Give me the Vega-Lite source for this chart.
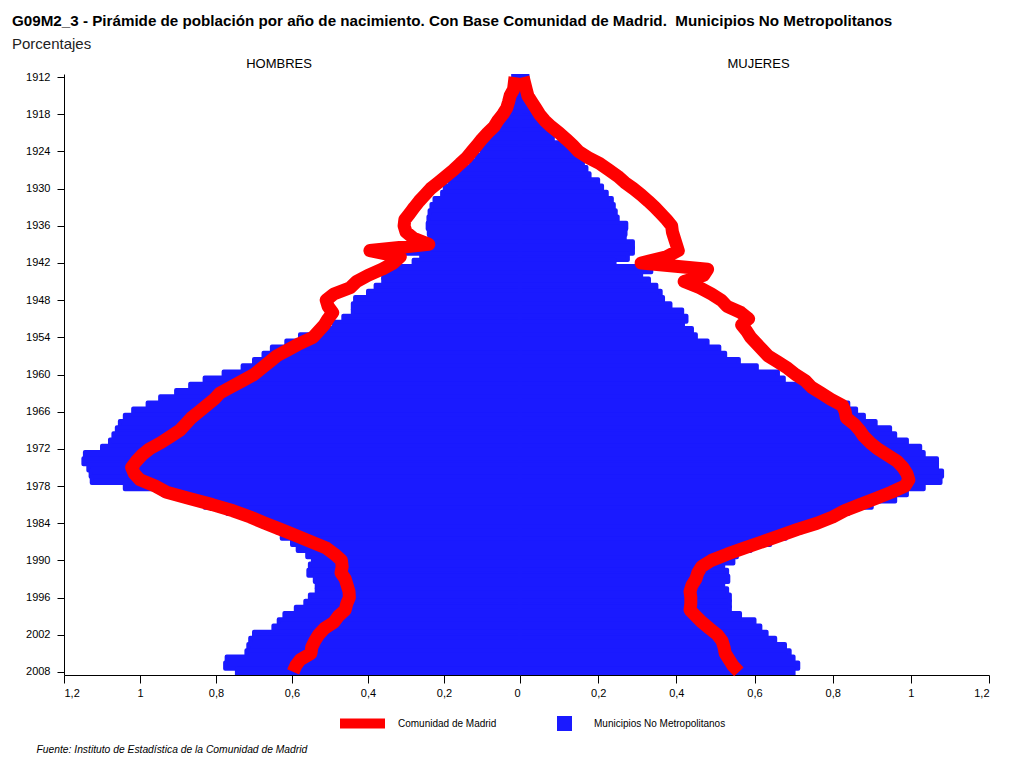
{
"$schema": "https://vega.github.io/schema/vega-lite/v6.json",
"background": "white",
"padding": {"left": 12, "top": 14, "right": 18, "bottom": 4},
"bounds": "flush",
"title": {"text": "G09M2_3 - Pirámide de población por año de nacimiento. Con Base Comunidad de Madrid.\u00a0 Municipios No Metropolitanos", "subtitle": "Porcentajes", "anchor": "start", "frame": "bounds", "font": "Liberation Sans", "fontSize": 15.2, "fontWeight": "bold", "color": "black", "subtitleFont": "Liberation Sans", "subtitleFontSize": 15, "subtitleColor": "#222", "subtitlePadding": 7, "offset": 6},
"data": {"values": [
{"y":1912,"mh":0.018,"ch":0.013,"mm":0.019,"mc":0.008},
{"y":1913,"mh":0.02,"ch":0.015,"mm":0.02,"mc":0.012},
{"y":1914,"mh":0.022,"ch":0.017,"mm":0.022,"mc":0.016},
{"y":1915,"mh":0.025,"ch":0.026,"mm":0.025,"mc":0.02},
{"y":1916,"mh":0.028,"ch":0.03,"mm":0.03,"mc":0.03},
{"y":1917,"mh":0.032,"ch":0.035,"mm":0.035,"mc":0.04},
{"y":1918,"mh":0.036,"ch":0.045,"mm":0.045,"mc":0.05},
{"y":1919,"mh":0.04,"ch":0.058,"mm":0.055,"mc":0.063},
{"y":1920,"mh":0.045,"ch":0.068,"mm":0.065,"mc":0.08},
{"y":1921,"mh":0.06,"ch":0.085,"mm":0.075,"mc":0.1},
{"y":1922,"mh":0.079,"ch":0.1,"mm":0.084,"mc":0.118},
{"y":1923,"mh":0.09,"ch":0.113,"mm":0.11,"mc":0.135},
{"y":1924,"mh":0.1,"ch":0.127,"mm":0.135,"mc":0.15},
{"y":1925,"mh":0.115,"ch":0.14,"mm":0.148,"mc":0.175},
{"y":1926,"mh":0.13,"ch":0.158,"mm":0.161,"mc":0.205},
{"y":1927,"mh":0.15,"ch":0.175,"mm":0.17,"mc":0.228},
{"y":1928,"mh":0.17,"ch":0.195,"mm":0.178,"mc":0.25},
{"y":1929,"mh":0.185,"ch":0.215,"mm":0.2,"mc":0.268},
{"y":1930,"mh":0.198,"ch":0.235,"mm":0.21,"mc":0.29},
{"y":1931,"mh":0.205,"ch":0.25,"mm":0.222,"mc":0.31},
{"y":1932,"mh":0.225,"ch":0.265,"mm":0.235,"mc":0.328},
{"y":1933,"mh":0.233,"ch":0.278,"mm":0.24,"mc":0.345},
{"y":1934,"mh":0.238,"ch":0.29,"mm":0.245,"mc":0.36},
{"y":1935,"mh":0.241,"ch":0.303,"mm":0.25,"mc":0.375},
{"y":1936,"mh":0.243,"ch":0.305,"mm":0.272,"mc":0.388},
{"y":1937,"mh":0.24,"ch":0.3,"mm":0.27,"mc":0.39},
{"y":1938,"mh":0.238,"ch":0.28,"mm":0.268,"mc":0.395},
{"y":1939,"mh":0.245,"ch":0.24,"mm":0.289,"mc":0.4},
{"y":1940,"mh":0.31,"ch":0.395,"mm":0.289,"mc":0.405},
{"y":1941,"mh":0.26,"ch":0.315,"mm":0.276,"mc":0.375},
{"y":1942,"mh":0.28,"ch":0.333,"mm":0.242,"mc":0.31},
{"y":1943,"mh":0.33,"ch":0.363,"mm":0.336,"mc":0.48},
{"y":1944,"mh":0.36,"ch":0.4,"mm":0.31,"mc":0.47},
{"y":1945,"mh":0.36,"ch":0.43,"mm":0.33,"mc":0.42},
{"y":1946,"mh":0.38,"ch":0.447,"mm":0.349,"mc":0.46},
{"y":1947,"mh":0.4,"ch":0.49,"mm":0.36,"mc":0.49},
{"y":1948,"mh":0.434,"ch":0.51,"mm":0.366,"mc":0.515},
{"y":1949,"mh":0.44,"ch":0.505,"mm":0.385,"mc":0.53},
{"y":1950,"mh":0.44,"ch":0.493,"mm":0.415,"mc":0.565},
{"y":1951,"mh":0.465,"ch":0.505,"mm":0.426,"mc":0.585},
{"y":1952,"mh":0.49,"ch":0.515,"mm":0.417,"mc":0.567},
{"y":1953,"mh":0.53,"ch":0.53,"mm":0.44,"mc":0.58},
{"y":1954,"mh":0.579,"ch":0.545,"mm":0.45,"mc":0.59},
{"y":1955,"mh":0.615,"ch":0.58,"mm":0.48,"mc":0.605},
{"y":1956,"mh":0.653,"ch":0.61,"mm":0.51,"mc":0.62},
{"y":1957,"mh":0.675,"ch":0.64,"mm":0.525,"mc":0.635},
{"y":1958,"mh":0.7,"ch":0.66,"mm":0.56,"mc":0.66},
{"y":1959,"mh":0.73,"ch":0.68,"mm":0.606,"mc":0.685},
{"y":1960,"mh":0.78,"ch":0.7,"mm":0.66,"mc":0.705},
{"y":1961,"mh":0.83,"ch":0.73,"mm":0.675,"mc":0.73},
{"y":1962,"mh":0.868,"ch":0.76,"mm":0.74,"mc":0.745},
{"y":1963,"mh":0.905,"ch":0.79,"mm":0.77,"mc":0.77},
{"y":1964,"mh":0.947,"ch":0.805,"mm":0.8,"mc":0.795},
{"y":1965,"mh":0.98,"ch":0.825,"mm":0.84,"mc":0.825},
{"y":1966,"mh":1.018,"ch":0.845,"mm":0.86,"mc":0.832},
{"y":1967,"mh":1.04,"ch":0.865,"mm":0.88,"mc":0.835},
{"y":1968,"mh":1.053,"ch":0.88,"mm":0.91,"mc":0.855},
{"y":1969,"mh":1.061,"ch":0.895,"mm":0.947,"mc":0.869},
{"y":1970,"mh":1.07,"ch":0.92,"mm":0.96,"mc":0.88},
{"y":1971,"mh":1.079,"ch":0.945,"mm":0.99,"mc":0.896},
{"y":1972,"mh":1.1,"ch":0.975,"mm":1.024,"mc":0.915},
{"y":1973,"mh":1.145,"ch":0.995,"mm":1.033,"mc":0.94},
{"y":1974,"mh":1.149,"ch":1.01,"mm":1.067,"mc":0.965},
{"y":1975,"mh":1.136,"ch":1.022,"mm":1.067,"mc":0.98},
{"y":1976,"mh":1.13,"ch":1.015,"mm":1.08,"mc":0.99},
{"y":1977,"mh":1.127,"ch":1.0,"mm":1.076,"mc":0.995},
{"y":1978,"mh":1.04,"ch":0.96,"mm":1.033,"mc":0.985},
{"y":1979,"mh":0.94,"ch":0.93,"mm":0.99,"mc":0.95},
{"y":1980,"mh":0.88,"ch":0.87,"mm":0.96,"mc":0.91},
{"y":1981,"mh":0.83,"ch":0.81,"mm":0.9,"mc":0.87},
{"y":1982,"mh":0.77,"ch":0.755,"mm":0.84,"mc":0.83},
{"y":1983,"mh":0.72,"ch":0.71,"mm":0.8,"mc":0.8},
{"y":1984,"mh":0.68,"ch":0.671,"mm":0.76,"mc":0.76},
{"y":1985,"mh":0.64,"ch":0.63,"mm":0.72,"mc":0.71},
{"y":1986,"mh":0.627,"ch":0.59,"mm":0.68,"mc":0.665},
{"y":1987,"mh":0.6,"ch":0.55,"mm":0.64,"mc":0.62},
{"y":1988,"mh":0.585,"ch":0.51,"mm":0.59,"mc":0.575},
{"y":1989,"mh":0.56,"ch":0.488,"mm":0.555,"mc":0.53},
{"y":1990,"mh":0.545,"ch":0.47,"mm":0.546,"mc":0.49},
{"y":1991,"mh":0.553,"ch":0.468,"mm":0.52,"mc":0.465},
{"y":1992,"mh":0.557,"ch":0.471,"mm":0.53,"mc":0.455},
{"y":1993,"mh":0.54,"ch":0.46,"mm":0.533,"mc":0.45},
{"y":1994,"mh":0.535,"ch":0.455,"mm":0.52,"mc":0.44},
{"y":1995,"mh":0.535,"ch":0.45,"mm":0.53,"mc":0.435},
{"y":1996,"mh":0.553,"ch":0.449,"mm":0.537,"mc":0.437},
{"y":1997,"mh":0.565,"ch":0.456,"mm":0.537,"mc":0.437},
{"y":1998,"mh":0.59,"ch":0.46,"mm":0.537,"mc":0.435},
{"y":1999,"mh":0.62,"ch":0.478,"mm":0.563,"mc":0.45},
{"y":2000,"mh":0.635,"ch":0.49,"mm":0.6,"mc":0.466},
{"y":2001,"mh":0.649,"ch":0.515,"mm":0.615,"mc":0.485},
{"y":2002,"mh":0.7,"ch":0.53,"mm":0.631,"mc":0.505},
{"y":2003,"mh":0.71,"ch":0.54,"mm":0.653,"mc":0.517},
{"y":2004,"mh":0.715,"ch":0.548,"mm":0.678,"mc":0.522},
{"y":2005,"mh":0.72,"ch":0.55,"mm":0.69,"mc":0.525},
{"y":2006,"mh":0.772,"ch":0.578,"mm":0.7,"mc":0.535},
{"y":2007,"mh":0.776,"ch":0.59,"mm":0.712,"mc":0.545},
{"y":2008,"mh":0.745,"ch":0.597,"mm":0.7,"mc":0.56}
]},
"spacing": 0,
"resolve": {"scale": {"fill": "shared", "stroke": "shared"}, "legend": {"fill": "shared", "stroke": "shared"}},
"hconcat": [
{
"width": 456, "height": 601,
"title": {"text": "HOMBRES", "anchor": "middle", "dx": -13, "fontSize": 13, "fontWeight": "normal", "font": "Liberation Sans", "color": "black", "offset": 0},
"encoding": {
  "y": {"field": "y", "type": "quantitative", "scale": {"domain": [1911.5, 2008.5], "reverse": true, "nice": false, "zero": false, "padding": 0},
        "axis": {"values": [1912,1918,1924,1930,1936,1942,1948,1954,1960,1966,1972,1978,1984,1990,1996,2002,2008], "tickCount": 40, "format": "d", "title": null, "tickSize": 7, "labelPadding": 7, "minExtent": 52, "maxExtent": 52, "labelOverlap": false}}
},
"layer": [
{"mark": {"type": "bar", "orient": "horizontal", "size": 6.2, "stroke": "#1a1aff", "strokeWidth": 4, "strokeJoin": "round", "clip": true},
 "encoding": {
  "x": {"field": "mh", "type": "quantitative", "scale": {"domain": [0, 1.2], "reverse": true, "nice": false, "padding": 0},
        "axis": {"values": [0,0.2,0.4,0.6,0.8,1,1.2], "tickCount": 20, "labelExpr": "replace(format(datum.value,'.1~f'),'.',',')", "tickSize": 8, "labelPadding": 4, "labelOverlap": false,
                 "title": "Fuente: Instituto de Estadística de la Comunidad de Madrid", "titleFont": "Liberation Sans", "titleFontSize": 10.3, "titleFontStyle": "italic", "titleFontWeight": "normal", "titleColor": "black", "titleAlign": "left", "titleAnchor": "start", "titleBaseline": "alphabetic", "titleX": -28, "titleY": 77}},
  "fill": {"datum": "Municipios No Metropolitanos", "type": "nominal",
            "scale": {"domain": ["Municipios No Metropolitanos"], "range": ["#1a1aff"]},
            "legend": {"orient": "none", "legendX": 493, "legendY": 642, "title": null, "labelFontSize": 10, "labelFont": "Liberation Sans", "labelColor": "black", "symbolType": "square", "symbolSize": 225, "symbolStrokeWidth": 0, "symbolOpacity": 1, "labelOffset": 22}}
 }},
{"mark": {"type": "line", "strokeWidth": 13, "strokeJoin": "round", "strokeCap": "butt"},
 "encoding": {
  "x": {"field": "ch", "type": "quantitative"},
  "order": {"field": "y"},
  "stroke": {"datum": "Comunidad de Madrid", "type": "nominal",
            "scale": {"domain": ["Comunidad de Madrid"], "range": ["#ff0000"]},
            "legend": {"orient": "none", "legendX": 271, "legendY": 622, "title": null, "labelFontSize": 10, "labelFont": "Liberation Sans", "labelColor": "black", "symbolType": "stroke", "symbolSize": 2025, "symbolStrokeWidth": 10, "symbolOpacity": 1, "labelOffset": 8}}
 }}
]
},
{
"width": 469, "height": 601,
"title": {"text": "MUJERES", "anchor": "middle", "dx": 4, "fontSize": 13, "fontWeight": "normal", "font": "Liberation Sans", "color": "black", "offset": 0},
"encoding": {
  "y": {"field": "y", "type": "quantitative", "scale": {"domain": [1911.5, 2008.5], "reverse": true, "nice": false, "zero": false, "padding": 0}, "axis": null}
},
"layer": [
{"mark": {"type": "bar", "orient": "horizontal", "size": 6.2, "stroke": "#1a1aff", "strokeWidth": 4, "strokeJoin": "round", "clip": true},
 "encoding": {
  "x": {"field": "mm", "type": "quantitative", "scale": {"domain": [0, 1.2], "nice": false, "padding": 0},
        "axis": {"values": [0.2,0.4,0.6,0.8,1,1.2], "tickCount": 20, "labelExpr": "replace(format(datum.value,'.1~f'),'.',',')", "tickSize": 8, "labelPadding": 4, "labelOverlap": false, "title": null}},
  "fill": {"datum": "Municipios No Metropolitanos", "type": "nominal"}
 }},
{"mark": {"type": "line", "strokeWidth": 13, "strokeJoin": "round", "strokeCap": "butt"},
 "encoding": {
  "x": {"field": "mc", "type": "quantitative"},
  "order": {"field": "y"},
  "stroke": {"datum": "Comunidad de Madrid", "type": "nominal"}
 }}
]
}
],
"config": {
  "view": {"stroke": null},
  "font": "Liberation Sans",
  "axis": {"grid": false, "labelFont": "Liberation Sans", "labelFontSize": 11, "labelColor": "black", "domainColor": "black", "tickColor": "black", "domainWidth": 1, "tickWidth": 1, "zindex": 1}
}
}
